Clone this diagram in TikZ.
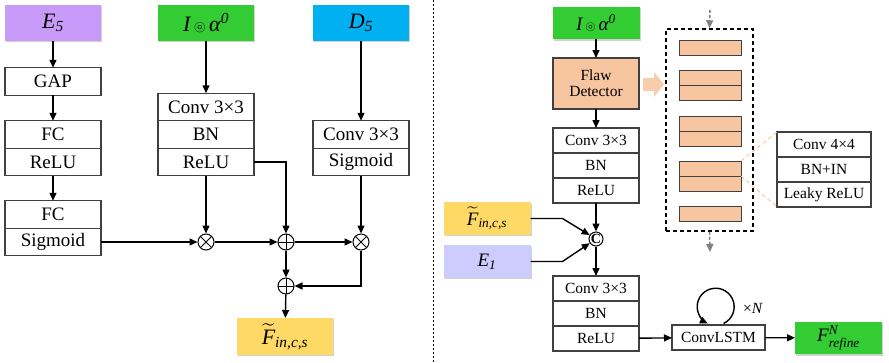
\documentclass[tikz,border=0pt]{standalone}
\usepackage{amsmath,amssymb}
\usepackage{fontspec}
\setmainfont{Liberation Serif}
\usepackage{tikz}
\usetikzlibrary{calc}
\usetikzlibrary{arrows.meta,positioning,shadows}

\definecolor{featpurple}{RGB}{200,155,250}
\definecolor{featgreen}{RGB}{51,204,51}
\definecolor{featblue}{RGB}{0,176,240}
\definecolor{featyellow}{RGB}{255,217,102}
\definecolor{featlilac}{RGB}{204,204,255}
\definecolor{peach}{RGB}{247,198,160}
\definecolor{peachlight}{RGB}{249,205,172}
\definecolor{peachline}{RGB}{248,190,150}

\begin{document}
\begin{tikzpicture}[x=1pt,y=-1pt,line width=1.4pt,>={Triangle[length=8pt,width=7pt]}]
      \tikzstyle{cell}=[draw=black!75,fill=white,rectangle,inner sep=0pt,outer sep=0pt,minimum width=96pt,minimum height=27.5pt,line width=1.3pt,font=\fontsize{19}{22}\selectfont]
      \tikzstyle{cellr}=[cell,minimum width=86pt,minimum height=25pt,font=\fontsize{15.5}{18}\selectfont]
      \tikzstyle{feat}=[rectangle,inner sep=0pt,outer sep=0pt,minimum width=96pt,minimum height=36pt,drop shadow={shadow xshift=1.3pt,shadow yshift=-1.3pt,fill=black!45,opacity=0.4},font=\fontsize{22}{24}\selectfont]
      \tikzstyle{featr}=[feat,minimum width=87pt,minimum height=32.5pt,font=\fontsize{19}{21}\selectfont]
      \tikzstyle{layer}=[draw=black!75,fill=peach,rectangle,inner sep=0pt,outer sep=0pt,minimum width=62pt,minimum height=15pt,line width=1pt]
      \tikzstyle{sumop}=[circle,draw,inner sep=0pt,minimum size=16pt,line width=1pt,path picture={\draw[line width=1pt] (path picture bounding box.north)--(path picture bounding box.south) (path picture bounding box.west)--(path picture bounding box.east);}]
      \tikzstyle{mulop}=[circle,draw,inner sep=0pt,minimum size=16pt,line width=1pt,path picture={\draw[line width=1pt] (path picture bounding box.north west)--(path picture bounding box.south east) (path picture bounding box.north east)--(path picture bounding box.south west);}]

      \useasboundingbox (0,0) rectangle (889,362);

      % left part
      \node[feat,fill=featpurple] (e5) at (53,23) {$\textit{E}_{\textit{5}}$};
      \node[cell] (gap) at (53,81.5) {GAP};
      \node[cell] (fcA) at (53,134.5) {FC};
      \node[cell,below=0pt of fcA] (reluA) {ReLU};
      \node[cell] (fcB) at (53,214.5) {FC};
      \node[cell,below=0pt of fcB] (sigA) {Sigmoid};

      \node[feat,fill=featgreen] (iaL) at (206,23) {$\textit{I}\,{\scriptstyle\circledcirc}\,\textit{α}^{\textit{0}}$};
      \node[cell] (convB) at (206,107) {Conv 3×3};
      \node[cell,below=0pt of convB] (bnB) {BN};
      \node[cell,below=0pt of bnB] (reluB) {ReLU};

      \node[feat,fill=featblue] (d5) at (361,23) {$\textit{D}_{\textit{5}}$};
      \node[cell] (convC) at (361,134.5) {Conv 3×3};
      \node[cell,below=0pt of convC] (sigC) {Sigmoid};

      \node[mulop] (mul1) at (reluB |- sigA) {};
      \node[sumop] (add1) at (286,242) {};
      \node[mulop] (mul2) at (sigC |- sigA) {};
      \node[sumop] (add2) at (286,286) {};
      \node[feat,fill=featyellow,minimum height=37pt] (ftL) at (285,336.5) {$\widetilde{\textit{F}}_{\textit{in,c,s}}$};

      \draw[->] (e5)--(gap);
      \draw[->] (gap)--(fcA);
      \draw[->] (reluA)--(fcB);
      \draw[->] (sigA)--(mul1);
      \draw[->] (iaL)--(convB);
      \draw[->] (reluB)--(mul1);
      \draw[->] (reluB.east)-|(add1);
      \draw[->] (d5)--(convC);
      \draw[->] (sigC)--(mul2);
      \draw[->] (mul1)--(add1);
      \draw[->] (add1)--(mul2);
      \draw[->] (add1)--(add2);
      \draw[->] (mul2)|-(add2);
      \draw[->] (add2)--(ftL);

      \draw[line width=0.8pt,dash pattern=on 2pt off 2pt] (433,0)--(433,362);

      % right part
      \node[featr,fill=featgreen] (iaR) at (596,23) {$\textit{I}\,{\scriptstyle\circledcirc}\,\textit{α}^{\textit{0}}$};
      \node[cellr,fill=peach,minimum height=51pt,align=center,font=\fontsize{15.5}{16}\selectfont,drop shadow={shadow xshift=1.3pt,shadow yshift=-1.3pt,fill=black!45,opacity=0.4}] (flaw) at (596,83.5) {Flaw\\Detector};
      \node[cellr] (convD) at (596,140.5) {Conv 3×3};
      \node[cellr,below=0pt of convD] (bnD) {BN};
      \node[cellr,below=0pt of bnD] (reluD) {ReLU};

      \node[circle,draw,inner sep=0pt,minimum size=14pt,line width=1pt,font=\fontsize{14}{14}\selectfont\bfseries] (cat) at (596,239) {C};
      \node[featr,fill=featyellow] (ftR) at (487,218.5) {$\widetilde{\textit{F}}_{\textit{in,c,s}}$};
      \node[featr,fill=featlilac] (e1) at (487,261.5) {$\textit{E}_{\textit{1}}$};

      \node[cellr] (convE) at (596,288.5) {Conv 3×3};
      \node[cellr,below=0pt of convE] (bnE) {BN};
      \node[cellr,below=0pt of bnE] (reluE) {ReLU};
      \node[cellr,minimum width=93pt] (lstm) at (718.5,337.5) {ConvLSTM};
      \node[font=\fontsize{15.5}{18}\selectfont] (times) at (753,308) {×\textit{N}};
      \node[featr,fill=featgreen] (fref) at (838.5,338) {$\textit{F}^{\textit{N}}_{\textit{refine}}$};

      \draw[->] (iaR)--(flaw);
      \draw[->] (flaw)--(convD);
      \draw[->] (reluD)--(cat);
      \draw[->] (ftR.east)--++(32,0)--(cat);
      \draw[->] (e1.east)--++(32,0)--(cat);
      \draw[->] (cat)--(convE);
      \draw[->] (reluE)--(lstm);
      \draw[->] (lstm)--(fref);
      \draw[->] ([xshift=5pt]lstm.north) ++(0,-1.5) arc[start angle=-65,end angle=245,radius=18.5pt];

      % flaw detector layers
      \fill[peachlight] (643,78)--(654,78)--(654,72)--(664,84.5)--(654,97)--(654,91)--(643,91)--cycle;
      \node[draw,line width=1.5pt,dash pattern=on 4pt off 3pt,minimum width=87pt,minimum height=202pt,inner sep=0pt] (det) at (709.5,130) {};
      \coordinate (inT) at (710,10);
      \coordinate (outB) at (710,252);
      \draw[->,black!50,line width=1.5pt,dash pattern=on 3pt off 2pt] (inT)--(det.north);
      \draw[->,black!50,line width=1.5pt,dash pattern=on 3pt off 2pt] (det.south)--(outB);

      \node[layer] (l1) at (710,47.5) {};
      \node[layer] (l2) at (710,77.5) {};
      \node[layer,below=0pt of l2] (l2b) {};
      \node[layer] (l3) at (710,123.5) {};
      \node[layer,below=0pt of l3] (l3b) {};
      \node[layer] (l4) at (710,168.5) {};
      \node[layer,below=0pt of l4] (l4b) {};
      \node[layer] (l5) at (710,214) {};

      \node[cellr,minimum width=94pt] (convF) at (824,144.5) {Conv 4×4};
      \node[cellr,minimum width=94pt,below=0pt of convF] (bnF) {BN+IN};
      \node[cellr,minimum width=94pt,below=0pt of bnF] (leaky) {Leaky ReLU};

      \draw[peachline,line width=0.8pt,dash pattern=on 4pt off 3pt] (l4.north east)--(convF.north west);
      \draw[peachline,line width=0.8pt,dash pattern=on 4pt off 3pt] (l4.south east)--(leaky.south west);
    \end{tikzpicture}
\end{document}
